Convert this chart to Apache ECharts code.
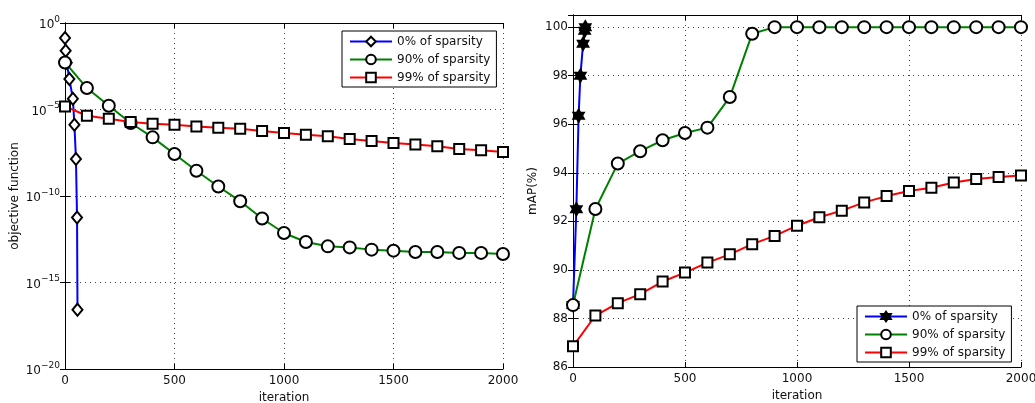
<!DOCTYPE html>
<html><head><meta charset="utf-8">
<script src="https://cdn.jsdelivr.net/npm/echarts@6/dist/echarts.min.js"></script>
<style>html,body{margin:0;padding:0;background:#fff}#c{width:1035px;height:403px}</style>
</head><body><div id="c"></div>
<script>
// ---- data ----
const seriesNames = ['0% of sparsity', '90% of sparsity', '99% of sparsity'];
const iterations = [0,100,200,300,400,500,600,700,800,900,1000,1100,1200,1300,1400,1500,1600,1700,1800,1900,2000];
const xTickValues = [0,500,1000,1500,2000];

// left panel: objective function, stored as log10 of the value
const objBlueIter  = [0, 3, 8, 20, 36, 43, 50, 55, 57];
const objBlueLog10 = [-0.87, -1.6, -2.3, -3.24, -4.38, -5.88, -7.86, -11.24, -16.57];
const objGreenLog10 = [-2.28,-3.76,-4.78,-5.78,-6.61,-7.57,-8.54,-9.45,-10.3,-11.3,-12.14,-12.66,-12.91,-12.97,-13.10,-13.16,-13.24,-13.24,-13.29,-13.29,-13.35];
const objRedLog10 = [-4.82,-5.36,-5.53,-5.72,-5.82,-5.88,-5.98,-6.05,-6.11,-6.24,-6.36,-6.46,-6.55,-6.71,-6.82,-6.94,-7.03,-7.13,-7.28,-7.36,-7.46];

// right panel: mAP(%)
const mapBlueIter = [0, 15, 25, 33, 45, 52, 55];
const mapBlue  = [88.55, 92.5, 96.35, 98.0, 99.32, 99.85, 100];
const mapGreen = [88.55,92.51,94.38,94.89,95.34,95.64,95.86,97.12,99.73,100,100,100,100,100,100,100,100,100,100,100,100];
const mapRed   = [86.85,88.12,88.63,89.0,89.52,89.89,90.3,90.64,91.06,91.40,91.82,92.17,92.44,92.78,93.04,93.25,93.38,93.6,93.74,93.83,93.89];

// ---- build ----
const FONT = 'DejaVu Sans';
const pair = (xs, ys) => xs.map((x, i) => [x, ys[i]]);
const fromLog = arr => arr.map(v => Math.pow(10, v));
const HEXAGRAM = 'path://M0,-10L2.887,-5L8.66,-5L5.774,0L8.66,5L2.887,5L0,10L-2.887,5L-8.66,5L-5.774,0L-8.66,-5L-2.887,-5Z';
const colors = ['#0000ff', '#008000', '#ff0000'];

function line(name, color, symbol, size, data, xi, yi, z) {
  return {
    type: 'line', name, data, xAxisIndex: xi, yAxisIndex: yi, z,
    symbol, symbolSize: size, showAllSymbol: true, symbolKeepAspect: true,
    color,
    lineStyle: { color, width: 2 },
    itemStyle: { color: '#fff', borderColor: '#000', borderWidth: 2 },
    emphasis: { disabled: true }, animation: false
  };
}

const gridLine = { show: true, lineStyle: { color: '#444', type: [1, 4], width: 1 } };
const axisLine = { show: true, lineStyle: { color: '#000', width: 1 } };
const tick = { show: true, inside: true, length: 5, lineStyle: { color: '#000' } };
const lbl = { color: '#111', fontFamily: FONT, fontSize: 12 };

function xAxes(gi) {
  return [
    { type: 'value', gridIndex: gi, min: 0, max: 2000, interval: 500, position: 'bottom',
      axisLine, axisTick: tick, splitLine: gridLine,
      axisLabel: Object.assign({ margin: 6, formatter: v => String(v) }, lbl),
      name: 'iteration', nameLocation: 'middle', nameGap: 22,
      nameTextStyle: { color: '#111', fontFamily: FONT, fontSize: 12 } },
    { type: 'value', gridIndex: gi, min: 0, max: 2000, interval: 500, position: 'top',
      axisLine, axisTick: tick, splitLine: { show: false }, axisLabel: { show: false } }
  ];
}

const supFmt = v => {
  const e = Math.round(Math.log10(v));
  return '{b|10}{s|' + (e === 0 ? '0' : '\u2212' + (-e)) + '}';
};

const legendBase = {
  formatter: n => n.split('|')[1],
  orient: 'vertical', itemWidth: 42, itemHeight: 12, itemGap: 5,
  padding: [4, 6, 3, 7], borderColor: '#000', borderWidth: 1, backgroundColor: '#fff',
  textStyle: { color: '#111', fontFamily: FONT, fontSize: 12, lineHeight: 13 }, selectedMode: false
};

const option = {
  backgroundColor: '#fff',
  animation: false,
  grid: [
    { left: 65, top: 23, width: 438, height: 346, outerBoundsMode: 'none', containLabel: false },
    { left: 573, top: 15, width: 448, height: 352, outerBoundsMode: 'none', containLabel: false }
  ],
  xAxis: [...xAxes(0), ...xAxes(1)],
  yAxis: [
    { type: 'log', logBase: 10, gridIndex: 0, min: 1e-20, max: 1, interval: 5, position: 'left',
      axisLine, axisTick: tick, splitLine: gridLine, minorTick: { show: false },
      axisLabel: { margin: 5, formatter: supFmt, rich: {
        b: { fontFamily: FONT, fontSize: 12, color: '#111', lineHeight: 16, verticalAlign: 'bottom' },
        s: { fontFamily: FONT, fontSize: 9, color: '#111', lineHeight: 10, verticalAlign: 'top' } } },
      name: 'objective function', nameLocation: 'middle', nameGap: 44,
      nameTextStyle: { color: '#111', fontFamily: FONT, fontSize: 12 } },
    { type: 'log', logBase: 10, gridIndex: 0, min: 1e-20, max: 1, interval: 5, position: 'right',
      axisLine, axisTick: tick, splitLine: { show: false }, axisLabel: { show: false } },
    { type: 'value', gridIndex: 1, min: 86, max: 100.5, interval: 2, position: 'left',
      axisLine, axisTick: tick, splitLine: gridLine,
      axisLabel: Object.assign({ margin: 5, showMaxLabel: false }, lbl),
      name: 'mAP(%)', nameLocation: 'middle', nameGap: 34,
      nameTextStyle: { color: '#111', fontFamily: FONT, fontSize: 12 } },
    { type: 'value', gridIndex: 1, min: 86, max: 100.5, interval: 2, position: 'right',
      axisLine, axisTick: tick, splitLine: { show: false }, axisLabel: { show: false } }
  ],
  legend: [
    Object.assign({ data: seriesNames.map(n => 'L|' + n), left: 342, top: 31 }, legendBase),
    Object.assign({ data: seriesNames.map(n => 'R|' + n), left: 857, top: 306 }, legendBase)
  ],
  series: [
    line('L|' + seriesNames[0], colors[0], 'diamond', [10, 12], pair(objBlueIter, fromLog(objBlueLog10)), 0, 0, 2),
    line('L|' + seriesNames[1], colors[1], 'circle', 12, pair(iterations, fromLog(objGreenLog10)), 0, 0, 3),
    line('L|' + seriesNames[2], colors[2], 'rect', 10, pair(iterations, fromLog(objRedLog10)), 0, 0, 4),
    line('R|' + seriesNames[0], colors[0], HEXAGRAM, 13, pair(mapBlueIter, mapBlue), 2, 2, 2),
    line('R|' + seriesNames[1], colors[1], 'circle', 12, pair(iterations, mapGreen), 2, 2, 3),
    line('R|' + seriesNames[2], colors[2], 'rect', 10, pair(iterations, mapRed), 2, 2, 4)
  ]
};
// right-panel hexagram markers are dark
option.series[3].itemStyle = { color: '#000', borderColor: '#000', borderWidth: 1.5 };

const chart = echarts.init(document.getElementById('c'), null, { renderer: 'canvas' });
chart.setOption(option);
</script>
</body></html>
